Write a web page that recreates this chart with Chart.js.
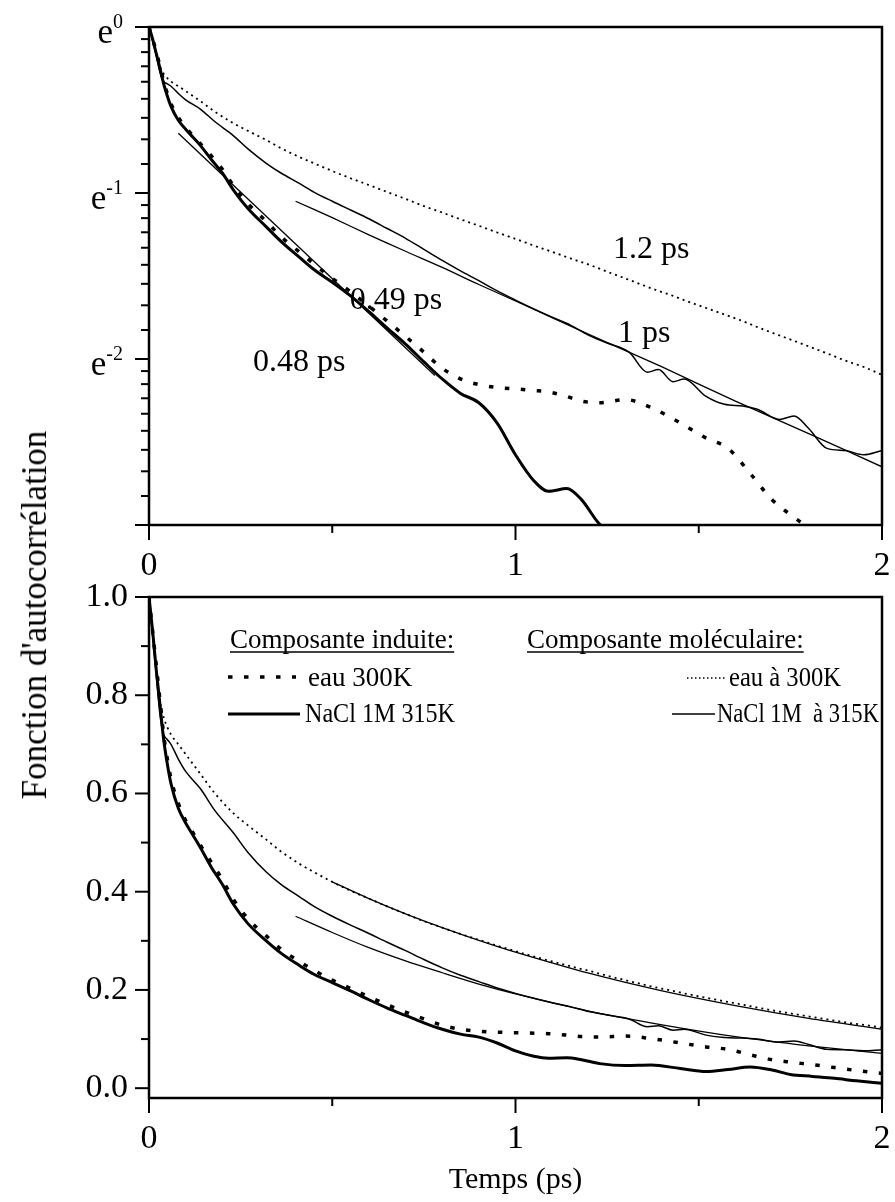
<!DOCTYPE html>
<html>
<head>
<meta charset="utf-8">
<script src="https://cdn.jsdelivr.net/npm/chart.js@4.4.1/dist/chart.umd.min.js"></script>
<style>
  html, body { margin: 0; padding: 0; background: #fff; }
  body { width: 895px; height: 1202px; position: relative; overflow: hidden; }
  .panel { position: absolute; left: 0; width: 895px; }
  #top { top: 0; height: 590px; }
  #bottom { top: 560px; height: 642px; }
  #ytitle {
    position: absolute; left: 35px; top: 615px;
    transform: translate(-50%, -50%) rotate(-90deg);
    font: 35px "Liberation Serif", serif; white-space: nowrap; color: #000;
  }
</style>
</head>
<body>
<div class="panel" id="top"><canvas id="logChart" width="895" height="590"></canvas></div>
<div class="panel" id="bottom"><canvas id="linChart" width="895" height="642"></canvas></div>
<div id="ytitle">Fonction d'autocorrélation</div>
<script>
// time grids (ps)
const tInduced = [0, 0.01, 0.02, 0.03, 0.04, 0.05, 0.06, 0.08, 0.10, 0.12, 0.14, 0.17, 0.20, 0.23, 0.27, 0.32,
  0.36, 0.41, 0.45, 0.50, 0.55, 0.60, 0.65, 0.70, 0.75, 0.80, 0.85, 0.90, 0.95, 1.00, 1.05, 1.09, 1.14, 1.18,
  1.23, 1.30, 1.37, 1.45, 1.52, 1.58, 1.64, 1.70, 1.75, 1.81, 1.87, 1.93, 2.00];
// composante induite
const naclInduced = [1.0, 0.93, 0.85, 0.78, 0.71, 0.66, 0.62, 0.57, 0.54, 0.515, 0.49, 0.45, 0.415, 0.375, 0.335, 0.30,
  0.275, 0.25, 0.232, 0.215, 0.198, 0.18, 0.163, 0.148, 0.133, 0.12, 0.11, 0.104, 0.092, 0.076, 0.065, 0.061, 0.062, 0.058,
  0.05, 0.046, 0.047, 0.040, 0.034, 0.038, 0.043, 0.037, 0.028, 0.024, 0.02, 0.015, 0.01];
const eauInduced = [1.0, 0.93, 0.86, 0.79, 0.72, 0.67, 0.63, 0.58, 0.545, 0.52, 0.495, 0.46, 0.425, 0.385, 0.345, 0.31,
  0.283, 0.258, 0.24, 0.22, 0.203, 0.186, 0.17, 0.155, 0.141, 0.128, 0.12, 0.116, 0.114, 0.113, 0.112, 0.111, 0.108, 0.105,
  0.104, 0.106, 0.101, 0.092, 0.084, 0.079, 0.068, 0.058, 0.053, 0.048, 0.042, 0.036, 0.03];

const tMol = [0, 0.01, 0.02, 0.03, 0.04, 0.05, 0.06, 0.08, 0.10, 0.14, 0.18, 0.23, 0.27, 0.32, 0.36, 0.41, 0.45,
  0.5, 0.55, 0.6, 0.65, 0.7, 0.75, 0.8, 0.85, 0.9, 0.95, 1.0, 1.05, 1.1, 1.15, 1.2, 1.25, 1.31, 1.36, 1.39, 1.43,
  1.46, 1.52, 1.57, 1.62, 1.66, 1.72, 1.76, 1.8, 1.85, 1.9, 1.95, 2.0];
// composante moleculaire
const naclMol = [1.0, 0.92, 0.84, 0.76, 0.72, 0.71, 0.70, 0.67, 0.645, 0.61, 0.565, 0.52, 0.48, 0.44, 0.415, 0.39, 0.37,
  0.35, 0.332, 0.315, 0.297, 0.28, 0.262, 0.245, 0.23, 0.217, 0.204, 0.193, 0.183, 0.174, 0.166, 0.156, 0.149, 0.141,
  0.125, 0.127, 0.118, 0.12, 0.108, 0.103, 0.102, 0.100, 0.094, 0.096, 0.089, 0.079, 0.078, 0.076, 0.078];
const eauMol = [1.0, 0.92, 0.85, 0.79, 0.755, 0.735, 0.72, 0.70, 0.68, 0.64, 0.60, 0.56, 0.535, 0.506, 0.482, 0.457, 0.44,
  0.42, 0.402, 0.386, 0.37, 0.355, 0.34, 0.327, 0.314, 0.302, 0.29, 0.279, 0.268, 0.258, 0.248, 0.239, 0.229, 0.218,
  0.209, 0.204, 0.198, 0.193, 0.184, 0.177, 0.17, 0.164, 0.156, 0.151, 0.146, 0.14, 0.134, 0.129, 0.123];

// exponential fits
const fit048T = [0.08, 0.78];
const fit048V = [0.527, 0.1225];
const fit1T = [0.4, 0.5, 0.6, 0.7, 0.8, 0.9, 1.0, 1.2, 1.4, 1.6, 1.8, 2.0];
const fit1V = [0.35, 0.317, 0.286, 0.259, 0.235, 0.212, 0.192, 0.157, 0.129, 0.105, 0.0863, 0.0707];
const fit12T = [0.5, 0.6, 0.7, 0.8, 0.9, 1.0, 1.2, 1.4, 1.6, 1.8, 2.0];
const fit12V = [0.42, 0.386, 0.355, 0.327, 0.301, 0.277, 0.234, 0.198, 0.168, 0.142, 0.120];

// axes
const xTicks = [0, 1, 2];
const xMinor = [0.5, 1.5];
const logExponents = [0, -1, -2];
const linTicks = [0, 0.2, 0.4, 0.6, 0.8, 1.0];
const linMinor = [0.1, 0.3, 0.5, 0.7, 0.9];

const notes = [
  { text: '1.2 ps', t: 1.266, v: 0.249 },
  { text: '1 ps', t: 1.280, v: 0.150 },
  { text: '0.49 ps', t: 0.548, v: 0.183 },
  { text: '0.48 ps', t: 0.284, v: 0.126 }
];

const serif = '"Liberation Serif", "Times New Roman", serif';
const tickFont = { family: serif, size: 34 };

function pts(ts, vs) { return ts.map((t, i) => ({ x: t, y: vs[i] })); }

function logMinorTicks() {
  const out = [];
  for (let n = 0; n < 3; n++) {
    const hi = Math.exp(-n), lo = Math.exp(-n - 1);
    for (let k = 1; k <= 8; k++) out.push(lo + k * (hi - lo) / 9);
  }
  return out;
}

const frame = {
  id: 'frame',
  afterDraw(chart, args, o) {
    const { ctx, chartArea: a } = chart;
    const xs = chart.scales.x, ys = chart.scales.y;
    ctx.save();
    ctx.strokeStyle = '#000';
    ctx.lineWidth = 2;
    const seg = (x1, y1, x2, y2) => { ctx.beginPath(); ctx.moveTo(x1, y1); ctx.lineTo(x2, y2); ctx.stroke(); };
    o.xMajor.forEach(v => { const p = xs.getPixelForValue(v); seg(p, a.bottom, p, a.bottom + 15); });
    o.xMinor.forEach(v => { const p = xs.getPixelForValue(v); seg(p, a.bottom, p, a.bottom + 8); });
    o.yMajor.forEach(v => { const p = ys.getPixelForValue(v); seg(a.left - 14, p, a.left, p); });
    o.yMinor.forEach(v => { const p = ys.getPixelForValue(v); seg(a.left - 8, p, a.left, p); });
    ctx.lineWidth = 2.5;
    ctx.strokeRect(a.left, a.top, a.right - a.left, a.bottom - a.top);
    ctx.restore();
  }
};

const expLabels = {
  id: 'expLabels',
  afterDraw(chart) {
    const { ctx, chartArea: a } = chart;
    const ys = chart.scales.y;
    ctx.save();
    ctx.fillStyle = '#000';
    ctx.textBaseline = 'alphabetic';
    logExponents.forEach(n => {
      const p = ys.getPixelForValue(Math.exp(n));
      const sup = String(n);
      ctx.font = '20px ' + serif;
      const ws = ctx.measureText(sup).width;
      const supX = a.left - 26 - ws;
      ctx.fillText(sup, supX, p + 1);
      ctx.font = '35px ' + serif;
      const we = ctx.measureText('e').width;
      ctx.fillText('e', supX - we, p + 16);
    });
    ctx.restore();
  }
};

const notesPlugin = {
  id: 'notes',
  afterDatasetsDraw(chart) {
    const { ctx } = chart;
    ctx.save();
    ctx.fillStyle = '#000';
    ctx.font = '32px ' + serif;
    notes.forEach(n => {
      ctx.fillText(n.text, chart.scales.x.getPixelForValue(n.t), chart.scales.y.getPixelForValue(n.v));
    });
    ctx.restore();
  }
};

// legend positions are relative to the plot area's top edge
const legendBox = {
  id: 'legendBox',
  afterDraw(chart) {
    const { ctx, chartArea: a } = chart;
    ctx.save();
    ctx.translate(0, a.top - 7);
    ctx.fillStyle = '#000';
    ctx.strokeStyle = '#000';
    const head = (txt, x, y, mw) => {
      ctx.font = '27px ' + serif;
      ctx.fillText(txt, x, y, mw);
      const w = Math.min(ctx.measureText(txt).width, mw);
      ctx.lineWidth = 1.4; ctx.setLineDash([]);
      ctx.beginPath(); ctx.moveTo(x, y + 4); ctx.lineTo(x + w, y + 4); ctx.stroke();
    };
    const sample = (x1, x2, y, w, dash) => {
      ctx.lineWidth = w; ctx.setLineDash(dash || []);
      ctx.beginPath(); ctx.moveTo(x1, y); ctx.lineTo(x2, y); ctx.stroke();
      ctx.setLineDash([]);
    };
    const label = (txt, x, y, mw) => { ctx.font = '27px ' + serif; ctx.fillText(txt, x, y, mw); };

    head('Composante induite:', 230, 58, 242);
    head('Composante moléculaire:', 527, 58, 283);

    sample(228, 296, 87, 3.5, [4.5, 11.5]);
    label('eau 300K', 308, 96, 110);
    sample(687, 727, 88, 1.4, [1.5, 2.5]);
    label('eau à 300K', 729, 96, 112);

    sample(228, 300, 124, 3);
    label('NaCl 1M 315K', 305, 132, 150);
    sample(672, 715, 124, 1.5);
    label('NaCl 1M  à 315K', 717, 132, 162);
    ctx.restore();
  }
};

const thick = { borderColor: '#000', borderWidth: 3, pointRadius: 0, fill: false, cubicInterpolationMode: 'monotone' };
const dashed = { borderColor: '#000', borderWidth: 3.5, borderDash: [4.5, 11.5], pointRadius: 0, fill: false, cubicInterpolationMode: 'monotone' };
const thin = { borderColor: '#000', borderWidth: 1.5, pointRadius: 0, fill: false, cubicInterpolationMode: 'monotone' };
const dotted = { borderColor: '#000', borderWidth: 1.8, borderDash: [2, 4], pointRadius: 0, fill: false, cubicInterpolationMode: 'monotone' };
const fitLine = { borderColor: '#000', borderWidth: 1.3, pointRadius: 0, fill: false, tension: 0.3 };

function xScale(height) {
  return {
    type: 'linear', min: 0, max: 2,
    afterFit: s => { s.height = height; s.paddingLeft = 0; s.paddingRight = 0; },
    afterBuildTicks: s => { s.ticks = xTicks.map(v => ({ value: v })); },
    grid: { display: false, drawTicks: false }, border: { display: false },
    ticks: { font: tickFont, color: '#000', padding: 21, maxRotation: 0, callback: v => String(v) }
  };
}

new Chart(document.getElementById('logChart'), {
  type: 'line',
  data: {
    datasets: [
      Object.assign({ label: 'eau à 300K', data: pts(tMol, eauMol) }, dotted),
      Object.assign({ label: 'NaCl 1M à 315K', data: pts(tMol, naclMol) }, thin),
      Object.assign({ label: 'eau 300K', data: pts(tInduced, eauInduced) }, dashed),
      Object.assign({ label: 'NaCl 1M 315K', data: pts(tInduced, naclInduced) }, thick),
      Object.assign({ label: '0.48 ps', data: pts(fit048T, fit048V) }, fitLine, { tension: 0 }),
      Object.assign({ label: '1 ps', data: pts(fit1T, fit1V) }, fitLine)
    ]
  },
  options: {
    responsive: false, animation: false,
    layout: { padding: { top: 27, right: 13, left: 0, bottom: 0 } },
    plugins: {
      legend: { display: false }, tooltip: { enabled: false },
      frame: { xMajor: xTicks, xMinor: xMinor, yMajor: [1, Math.exp(-1), Math.exp(-2), Math.exp(-3)], yMinor: logMinorTicks() }
    },
    scales: {
      x: xScale(65),
      y: {
        type: 'logarithmic', min: Math.exp(-3), max: 1,
        afterFit: s => { s.width = 149; s.paddingTop = 0; s.paddingBottom = 0; },
        grid: { display: false, drawTicks: false }, border: { display: false },
        ticks: { display: false }
      }
    }
  },
  plugins: [frame, expLabels, notesPlugin]
});

new Chart(document.getElementById('linChart'), {
  type: 'line',
  data: {
    datasets: [
      Object.assign({ label: 'eau à 300K', data: pts(tMol, eauMol) }, dotted),
      Object.assign({ label: 'NaCl 1M à 315K', data: pts(tMol, naclMol) }, thin),
      Object.assign({ label: 'eau 300K', data: pts(tInduced, eauInduced) }, dashed),
      Object.assign({ label: 'NaCl 1M 315K', data: pts(tInduced, naclInduced) }, thick),
      Object.assign({ label: '1 ps', data: pts(fit1T, fit1V) }, fitLine),
      Object.assign({ label: '1.2 ps', data: pts(fit12T, fit12V) }, fitLine)
    ]
  },
  options: {
    responsive: false, animation: false,
    layout: { padding: { top: 37, right: 13, left: 0, bottom: 0 } },
    plugins: {
      legend: { display: false }, tooltip: { enabled: false },
      frame: { xMajor: xTicks, xMinor: xMinor, yMajor: linTicks, yMinor: linMinor }
    },
    scales: {
      x: Object.assign(xScale(104), {
        title: { display: true, text: 'Temps (ps)', color: '#000', font: { family: serif, size: 30 }, padding: { top: 0, bottom: 4 } }
      }),
      y: {
        type: 'linear', min: -0.02, max: 1.0,
        afterFit: s => { s.width = 149; s.paddingTop = 0; s.paddingBottom = 0; },
        afterBuildTicks: s => { s.ticks = linTicks.map(v => ({ value: v })); },
        grid: { display: false, drawTicks: false }, border: { display: false },
        ticks: { font: tickFont, color: '#000', padding: 21, callback: v => v.toFixed(1) }
      }
    }
  },
  plugins: [frame, legendBox]
});
</script>
</body>
</html>
